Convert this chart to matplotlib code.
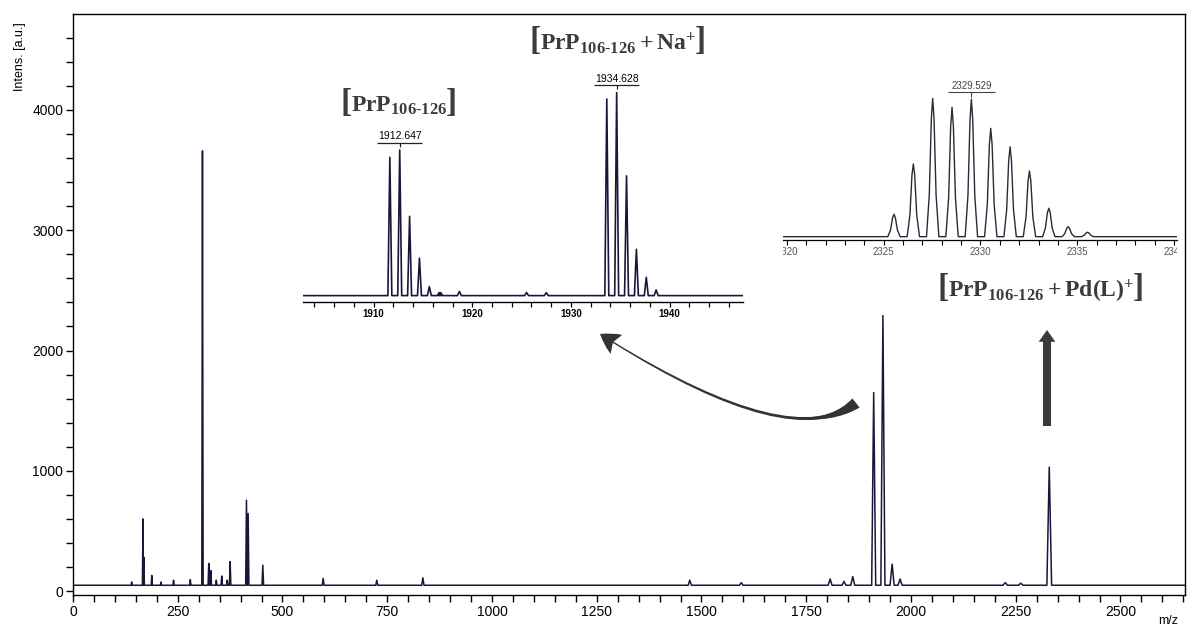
import matplotlib
matplotlib.use("Agg")
import matplotlib.pyplot as plt
from matplotlib.patches import FancyArrowPatch
from matplotlib.path import Path
from matplotlib.ticker import MultipleLocator
from matplotlib.transforms import Bbox, TransformedBbox

plt.rcParams["font.family"] = ["Liberation Sans", "DejaVu Sans"]
plt.rcParams["mathtext.fontset"] = "custom"
plt.rcParams["mathtext.rm"] = "Liberation Serif:bold"
plt.rcParams["mathtext.it"] = "Liberation Serif:bold"
plt.rcParams["mathtext.bf"] = "Liberation Serif:bold"

# full spectrum: peak m/z and apex intensity (a.u.)
main_mz = [140, 167, 169, 188, 210, 240, 280, 309, 324, 329, 342, 355, 368,
           375, 414, 418, 453, 597, 725, 835, 1472, 1595, 1807, 1840, 1861,
           1911, 1933, 1955, 1974, 2225, 2262, 2330]
main_int = [75, 600, 280, 130, 75, 90, 95, 3660, 230, 170, 90, 125, 90,
            245, 755, 645, 215, 105, 90, 110, 90, 70, 100, 80, 120,
            1650, 2290, 224, 100, 70, 65, 1030]
main_base = 48

# zoom 1: [PrP] and [PrP + Na] isotope envelopes (relative %)
zoom1_mz = [1911.65, 1912.65, 1913.65, 1914.65, 1915.65, 1916.65, 1916.8,
            1918.7, 1925.5, 1927.5,
            1933.63, 1934.63, 1935.63, 1936.63, 1937.63, 1938.63]
zoom1_int = [68, 71.6, 39, 18.4, 4.4, 1.5, 1.5, 2, 1.5, 1.5,
             96.7, 100, 58.9, 22.8, 9, 2.8]
zoom1_labels = [(1912.647, 71.6, "1912.647"), (1934.628, 100, "1934.628")]

# zoom 2: [PrP + Pd(L)] isotope envelope (relative %)
zoom2_mz = [2325.53, 2326.53, 2327.53, 2328.53, 2329.529, 2330.53, 2331.53,
            2332.53, 2333.53, 2334.53, 2335.53]
zoom2_int = [16.2, 52.5, 100, 93.5, 99.3, 78.3, 65, 47.5, 20.5, 7.2, 3.2]
zoom2_labels = [(2329.529, 99.3, "2329.529")]

species = [
    (399, 112, r"$\mathrm{PrP}_{\text{106-126}}$"),
    (618, 50, r"$\mathrm{PrP}_{\text{106-126}}+\mathrm{Na}^{+}$"),
    (1041, 297, r"$\mathrm{PrP}_{\text{106-126}}+\mathrm{Pd(L)}^{+}$"),
]

W, H = 1189, 628
INK = "#17173a"
GREY = "#3c3c3c"

TRIANGLE = ([-1, 0, 1], [0, 1, 0])
ROUNDED = ([-1, -0.55, -0.22, 0, 0.22, 0.55, 1],
           [0, 0.3, 0.85, 1, 0.85, 0.3, 0])


def box(left, top, right, bottom):
    return [left / W, 1 - bottom / H, (right - left) / W, (bottom - top) / H]


def fig_xy(x, y):
    return (x / W, 1 - y / H)


def profile(centers, tops, half_width, base, lo, hi, shape=TRIANGLE):
    if not callable(half_width):
        hw = half_width
        half_width = lambda c: hw
    offs, fracs = shape
    xs, ys = [lo], [base]
    for c, t in sorted(zip(centers, tops)):
        w = half_width(c)
        xs += [c + o * w for o in offs]
        ys += [base + f * (t - base) for f in fracs]
    xs.append(hi)
    ys.append(base)
    return xs, ys


fig = plt.figure(figsize=(W / 100, H / 100), dpi=100)

# main spectrum
ax = fig.add_axes(box(73, 14, 1185, 595))
x, y = profile(main_mz, main_int, lambda c: 1 + c / 500, main_base, 0, 2660)
ax.plot(x, y, color=INK, lw=1.1)
ax.set_xlim(0, 2654)
ax.set_ylim(-33, 4798)
ax.xaxis.set_major_locator(MultipleLocator(250))
ax.xaxis.set_minor_locator(MultipleLocator(50))
ax.yaxis.set_major_locator(MultipleLocator(1000))
ax.yaxis.set_minor_locator(MultipleLocator(200))
ax.tick_params(which="both", direction="out", length=5, width=1,
               labelsize=10, pad=2)
for s in ax.spines.values():
    s.set_linewidth(1)
fig.text(*fig_xy(20, 57), "Intens. [a.u.]", rotation=90, ha="center",
         va="center", fontsize=9)
fig.text(*fig_xy(1168, 621), "m/z", ha="center", va="center", fontsize=9)

# zoom inset 1
ax1 = fig.add_axes(box(302.7, 92.3, 743.3, 301.7), facecolor="none")
x, y = profile(zoom1_mz, zoom1_int, 0.2, 0, 1900, 1950)
ax1.plot(x, y, color=INK, lw=1.2)
ax1.set_xlim(1902.82, 1947.46)
ax1.set_ylim(-3, 100)
for k in ("left", "right", "top"):
    ax1.spines[k].set_visible(False)
ax1.spines["bottom"].set_linewidth(1)
ax1.set_yticks([])
ax1.xaxis.set_major_locator(MultipleLocator(10))
ax1.xaxis.set_minor_locator(MultipleLocator(2))
ax1.tick_params(which="both", direction="out", length=3.5, width=0.9,
                labelsize=7, pad=1.5)
for lbl in ax1.get_xticklabels():
    lbl.set_fontweight("bold")
for c, h, txt in zoom1_labels:
    ax1.hlines(h + 3.6, c - 2.3, c + 2.3, color="#222222", lw=0.9,
               clip_on=False)
    ax1.vlines(c, h + 1.6, h + 3.6, color="#222222", lw=0.9, clip_on=False)
    ax1.text(c, h + 4.3, txt, ha="center", va="bottom", fontsize=7.5,
             clip_on=False)

# zoom inset 2
ax2 = fig.add_axes(box(782.7, 98.3, 1177.3, 240), facecolor="none")
x, y = profile(zoom2_mz, zoom2_int, 0.32, 0, 2318, 2342, shape=ROUNDED)
ax2.plot(x, y, color="#2a2a38", lw=1.0)
ax2.set_xlim(2319.78, 2340.17)
ax2.set_ylim(-2.4, 100)
for k in ("left", "right", "top"):
    ax2.spines[k].set_visible(False)
ax2.spines["bottom"].set_linewidth(0.9)
ax2.set_yticks([])
ax2.xaxis.set_major_locator(MultipleLocator(5))
ax2.xaxis.set_minor_locator(MultipleLocator(1))
ax2.tick_params(which="both", direction="out", length=3.5, width=0.8,
                labelsize=7, pad=1.5, labelcolor="#555555")
for c, h, txt in zoom2_labels:
    ax2.hlines(h + 5.5, c - 1.2, c + 1.2, color="#444444", lw=0.8,
               clip_on=False)
    ax2.vlines(c, h + 1.5, h + 5.5, color="#444444", lw=0.8, clip_on=False)
    ax2.text(c, h + 6.3, txt, ha="center", va="bottom", fontsize=7,
             color="#444444", clip_on=False)

# species labels, with tall square brackets around the formula
inner = [fig.text(*fig_xy(cx, cy), t, ha="center", va="baseline",
                  fontsize=17, color=GREY) for cx, cy, t in species]
fig.canvas.draw()
renderer = fig.canvas.get_renderer()
to_frac = fig.transFigure.inverted()
for (cx, cy, _), t in zip(species, inner):
    bb = t.get_window_extent(renderer)
    x0 = to_frac.transform((bb.x0 + 1, 0))[0]
    x1 = to_frac.transform((bb.x1 - 1, 0))[0]
    yb = fig_xy(cx, cy)[1]
    for xb, ch, ha in ((x0, "[", "right"), (x1, "]", "left")):
        fig.text(xb, yb, ch, ha=ha, va="baseline", fontsize=24,
                 family="Liberation Serif", weight="bold", color=GREY)

clip = TransformedBbox(Bbox([[0, -1], [1, 1]]), ax2.transAxes)
for lbl in ax2.get_xticklabels():
    lbl.set_clip_box(clip)
    lbl.set_clip_on(True)

# curved arrow from the main peaks to the first zoom
A, C, B = (856, 403), (790, 455), (600, 334)
curve = Path([fig_xy(*A), fig_xy(*C), fig_xy(*B)],
             [Path.MOVETO, Path.CURVE3, Path.CURVE3])
fig.patches.append(FancyArrowPatch(
    path=curve, transform=fig.transFigure, color="#333333", lw=0,
    arrowstyle="fancy,head_length=0.7,head_width=0.8,tail_width=0.16",
    mutation_scale=20))
s = 0.35
q1 = (A[0] + s * (C[0] - A[0]), A[1] + s * (C[1] - A[1]))
qm = ((1 - s) ** 2 * A[0] + 2 * s * (1 - s) * C[0] + s ** 2 * B[0],
      (1 - s) ** 2 * A[1] + 2 * s * (1 - s) * C[1] + s ** 2 * B[1])
tail = Path([fig_xy(*A), fig_xy(*q1), fig_xy(*qm)],
            [Path.MOVETO, Path.CURVE3, Path.CURVE3])
fig.patches.append(FancyArrowPatch(
    path=tail, transform=fig.transFigure, color="#333333", lw=0,
    arrowstyle="wedge,tail_width=0.42,shrink_factor=0.4", mutation_scale=20))

# straight arrow to the second zoom
fig.patches.append(FancyArrowPatch(
    fig_xy(1047, 426), fig_xy(1047, 330), transform=fig.transFigure,
    color="#3a3a3a", lw=0, shrinkA=0, shrinkB=0,
    arrowstyle="simple,head_length=0.85,head_width=1.2,tail_width=0.58",
    mutation_scale=10))

fig.savefig("out.png", dpi=100)
